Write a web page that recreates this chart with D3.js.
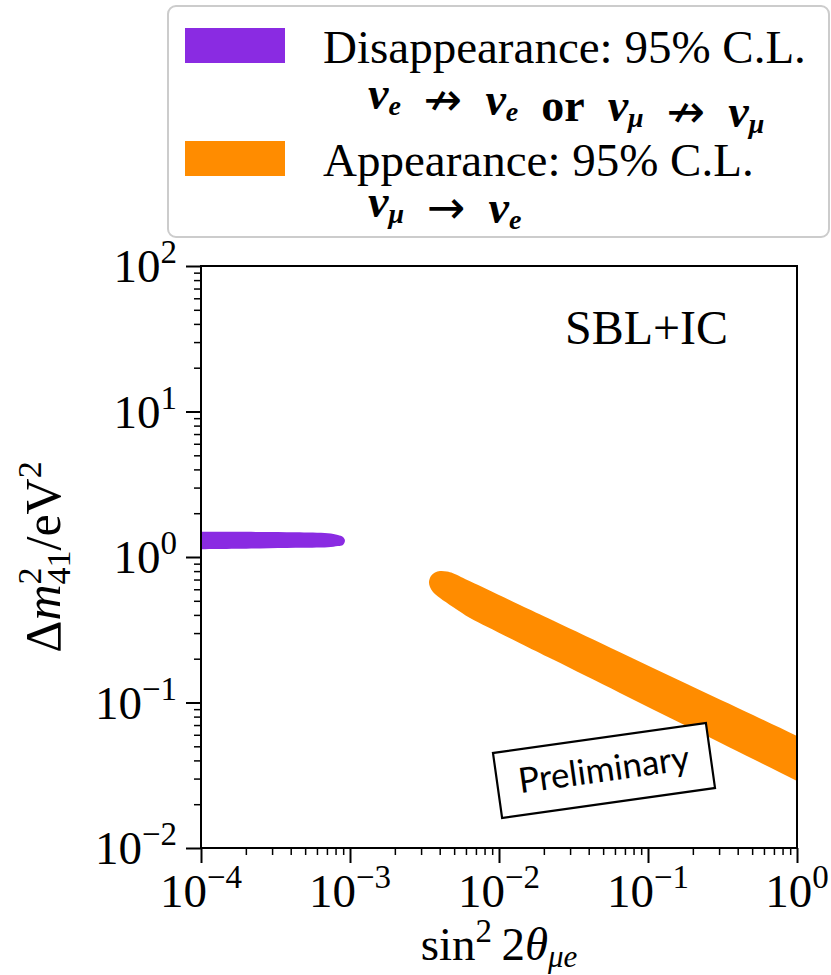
<!DOCTYPE html>
<html><head><meta charset="utf-8">
<script src="https://cdn.jsdelivr.net/npm/d3@7"></script>
<style>body{margin:0;background:#fff}</style>
</head><body>
<svg id="c" width="831" height="975"></svg>
<script>
// ---- data ----
const xMajor = [1e-4, 1e-3, 1e-2, 1e-1, 1];
const xMajorExp = ["\u22124", "\u22123", "\u22122", "\u22121", "0"];
const yMajor = [1e-2, 1e-1, 1, 10, 100];
const yMajorExp = ["\u22122", "\u22121", "0", "1", "2"];

// Disappearance 95% C.L. contour (sin^2 2theta, dm2)
const disSin2 = [5e-5, 9e-5, 1.3e-4, 2.5e-4, 4.3e-4, 7.1e-4, 8.3e-4, 8.97e-4, 9.25e-4, 8.97e-4, 8.3e-4, 7.1e-4, 4.3e-4, 2.5e-4, 1.3e-4, 9e-5, 5e-5];
const disDm2  = [1.49, 1.49, 1.49, 1.487, 1.48, 1.455, 1.415, 1.37, 1.295, 1.21, 1.19, 1.165, 1.158, 1.145, 1.135, 1.13, 1.13];

// Appearance 95% C.L. contour
const appSin2 = [3.389e-3, 3.496e-3, 3.719e-3, 4.018e-3, 4.477e-3, 4.912e-3, 6.389e-3, 8.310e-3, 0.01383, 0.02304,
                 0.06488, 0.1827, 0.5067, 1.0, 1.665,
                 1.665, 1.0, 0.5067, 0.1827, 0.06488, 0.02304, 0.01383, 8.310e-3, 6.389e-3, 4.912e-3, 4.018e-3,
                 3.606e-3, 3.442e-3];
const appDm2  = [0.6735, 0.7404, 0.7823, 0.8010, 0.7949, 0.7740, 0.6808, 0.5998, 0.4679, 0.3662,
                 0.2217, 0.1340, 0.0820, 0.0589, 0.0460,
                 0.0223, 0.02892, 0.04089, 0.06871, 0.1164, 0.1971, 0.2557, 0.3313, 0.3808, 0.4533, 0.5226,
                 0.5747, 0.6222];

const legendLabels = ["Disappearance: 95% C.L.", "Appearance: 95% C.L."];
const colors = ["#8A2BE2", "#FF8C00"];

// ---- layout ----
const L = 201, R = 797, T = 266, B = 848;
const svg = d3.select("#c");
const serif = "'Liberation Serif', 'Times New Roman', serif";

const x = d3.scaleLog().domain([1e-4, 1]).range([L, R]);
const y = d3.scaleLog().domain([1e-2, 1e2]).range([B, T]);

svg.append("defs").append("clipPath").attr("id", "clip")
  .append("rect").attr("x", L).attr("y", T).attr("width", R - L).attr("height", B - T);

const line = d3.line().x(d => x(d[0])).y(d => y(d[1])).curve(d3.curveCatmullRomClosed.alpha(0.5));

const plot = svg.append("g").attr("clip-path", "url(#clip)");
plot.append("path").datum(disSin2.map((v, i) => [v, disDm2[i]]))
  .attr("d", line).attr("fill", colors[0]);
plot.append("path").datum(appSin2.map((v, i) => [v, appDm2[i]]))
  .attr("d", line).attr("fill", colors[1]);

function minors(lo, hi) {
  const out = [];
  for (let e = lo; e < hi; e++) for (let k = 2; k <= 9; k++) out.push(k * Math.pow(10, e));
  return out;
}

const gx = svg.append("g").attr("transform", `translate(0,${B})`);
gx.call(d3.axisBottom(x).tickValues(xMajor).tickSize(15).tickFormat(""));
const gxm = svg.append("g").attr("transform", `translate(0,${B})`);
gxm.call(d3.axisBottom(x).tickValues(minors(-4, 0)).tickSize(7).tickFormat(""));
const gy = svg.append("g").attr("transform", `translate(${L},0)`);
gy.call(d3.axisLeft(y).tickValues(yMajor).tickSize(15).tickFormat(""));
const gym = svg.append("g").attr("transform", `translate(${L},0)`);
gym.call(d3.axisLeft(y).tickValues(minors(-2, 2)).tickSize(7).tickFormat(""));
[gx, gy].forEach(g => { g.select(".domain").remove(); g.selectAll("line").attr("stroke", "#000").attr("stroke-width", 2); });
[gxm, gym].forEach(g => { g.select(".domain").remove(); g.selectAll("line").attr("stroke", "#000").attr("stroke-width", 1.5); });

svg.append("rect").attr("x", L).attr("y", T).attr("width", R - L).attr("height", B - T)
  .attr("fill", "none").attr("stroke", "#000").attr("stroke-width", 2);

// tick labels
const fs = 47, fss = 33;
xMajor.forEach((v, i) => {
  const t = svg.append("text").attr("x", x(v)).attr("y", 907).attr("text-anchor", "middle")
    .attr("font-family", serif).attr("font-size", fs);
  t.append("tspan").text("10");
  t.append("tspan").attr("dy", -19).attr("font-size", fss).text(xMajorExp[i]);
});
yMajor.forEach((v, i) => {
  const t = svg.append("text").attr("x", 177).attr("y", y(v) + 16).attr("text-anchor", "end")
    .attr("font-family", serif).attr("font-size", fs);
  t.append("tspan").text("10");
  t.append("tspan").attr("dy", -19).attr("font-size", fss).text(yMajorExp[i]);
});

// x label
{
  const t = svg.append("text").attr("x", 499).attr("y", 960).attr("text-anchor", "middle")
    .attr("font-family", serif).attr("font-size", 47);
  t.append("tspan").text("sin");
  t.append("tspan").attr("dy", -18).attr("font-size", 33).text("2");
  t.append("tspan").attr("dy", 18).text("\u20092");
  t.append("tspan").attr("font-style", "italic").text("\u03B8");
  t.append("tspan").attr("dy", 7).attr("font-size", 31).attr("font-style", "italic").text("\u03BCe");
}
// y label
{
  const t = svg.append("text").attr("transform", "translate(60,557) rotate(-90)")
    .attr("text-anchor", "middle").attr("font-family", serif).attr("font-size", 50);
  t.append("tspan").text("\u0394");
  t.append("tspan").attr("font-style", "italic").text("m");
  t.append("tspan").attr("dy", -19).attr("font-size", 34).text("2");
  t.append("tspan").attr("dx", -17).attr("dy", 29).attr("font-size", 34).text("41");
  t.append("tspan").attr("dy", -10).text("/eV");
  t.append("tspan").attr("dy", -19).attr("font-size", 34).text("2");
}

svg.append("text").attr("x", 565).attr("y", 344).attr("font-family", serif).attr("font-size", 48)
  .attr("textLength", 163).attr("lengthAdjust", "spacingAndGlyphs").text("SBL+IC");

// Preliminary box
{
  const g = svg.append("g").attr("transform", "translate(604,770.5) rotate(-8)");
  g.append("rect").attr("x", -107.5).attr("y", -32.8).attr("width", 215).attr("height", 65.6)
    .attr("fill", "#fff").attr("stroke", "#000").attr("stroke-width", 2.2);
  g.append("text").attr("x", 0).attr("y", 11).attr("text-anchor", "middle")
    .attr("font-family", "Lato, 'Open Sans', sans-serif").attr("font-size", 35)
    .attr("textLength", 172).attr("lengthAdjust", "spacingAndGlyphs").text("Preliminary");
}

// legend
{
  const lg = svg.append("g");
  lg.append("rect").attr("x", 168).attr("y", 6).attr("width", 661).attr("height", 231).attr("rx", 8)
    .attr("fill", "#fff").attr("fill-opacity", 0.8).attr("stroke", "#cccccc").attr("stroke-width", 2);
  const rows = [28, 141];
  rows.forEach((ry, i) => {
    lg.append("rect").attr("x", 185).attr("y", ry).attr("width", 100).attr("height", 35).attr("fill", colors[i]);
    lg.append("text").attr("x", 323).attr("y", ry + 35).attr("font-family", serif).attr("font-size", 47)
      .text(legendLabels[i]);
  });
  function nu(t, sub) {
    t.append("tspan").attr("font-style", "italic").text("\u03BD");
    t.append("tspan").attr("font-style", "italic").attr("font-size", 28).attr("dy", 6).text(sub);
    t.append("tspan").attr("dy", -6).text("");
  }
  function arrow(t, ch) {
    t.append("tspan").attr("font-family", "'DejaVu Sans', sans-serif").attr("font-weight", "normal")
      .text("\u2002" + ch + "\u2002");
  }
  const t1 = lg.append("text").attr("x", 368).attr("y", 109).attr("font-family", serif)
    .attr("font-size", 46).attr("font-weight", "bold");
  nu(t1, "e"); arrow(t1, "\u219B"); nu(t1, "e");
  t1.append("tspan").text("\u2002or\u2002"); nu(t1, "\u03BC"); arrow(t1, "\u219B"); nu(t1, "\u03BC");
  const t2 = lg.append("text").attr("x", 368).attr("y", 217).attr("font-family", serif)
    .attr("font-size", 46).attr("font-weight", "bold");
  nu(t2, "\u03BC"); arrow(t2, "\u2192"); nu(t2, "e");
}
</script>
</body></html>
